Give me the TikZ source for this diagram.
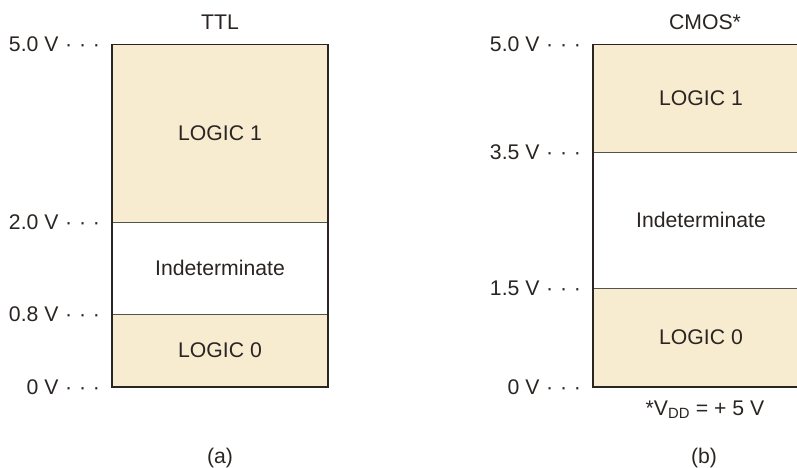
\documentclass[tikz,border=0pt]{standalone}
\usepackage{fontspec}
\setmainfont{Liberation Sans}
\usetikzlibrary{positioning}
\definecolor{cBand}{HTML}{F7EBD0}
\definecolor{cInk}{HTML}{2A2522}
\newcommand\lblfont{\fontsize{21.2}{25}\selectfont}
\newcommand\lvldots{\hspace{0.32em}·\hspace{0.32em}·\hspace{0.32em}·}
\tikzset{
  every node/.style={font=\lblfont,text=cInk,inner sep=0pt,outer sep=0pt},
  band/.style ={fill=cBand,minimum width=216pt},
  gap/.style  ={band,fill=white},
  frame/.style={draw=cInk,line width=1.8pt},
  rule/.style ={draw=cInk!80,line width=1pt},
  lvl/.style  ={anchor=east},
}
\begin{document}
\begin{tikzpicture}[x=1pt,y=-1pt]
\useasboundingbox (0,0) rectangle (797,467);
% (a) TTL
\node[band,minimum height=177.5pt] (L1) at (220,133.25) {LOGIC 1};
\node[gap,minimum height=92pt,below=0pt of L1] (LI) {Indeterminate};
\node[band,minimum height=73pt,below=0pt of LI] (L0) {LOGIC 0};
\draw[rule] (L1.south west) -- (L1.south east);
\draw[rule] (LI.south west) -- (LI.south east);
\draw[frame] (L1.north west) rectangle (L0.south east);
\node[above=15pt of L1.north] (tTTL) {TTL};
\node[lvl,left=12pt of L1.north west] (a50) {5.0 V\lvldots};
\node[lvl,left=12pt of L1.south west] (a20) {2.0 V\lvldots};
\node[lvl,left=12pt of LI.south west] (a08) {0.8 V\lvldots};
\node[lvl,left=12pt of L0.south west] (a00) {0 V\lvldots};
\node[below=61pt of L0.south] (capA) {(a)};
% (b) CMOS
\node[band,minimum height=107.5pt] (R1) at (701,98.25) {LOGIC 1};
\node[gap,minimum height=136pt,below=0pt of R1] (RI) {Indeterminate};
\node[band,minimum height=99pt,below=0pt of RI] (R0) {LOGIC 0};
\draw[rule] (R1.south west) -- (R1.south east);
\draw[rule] (RI.south west) -- (RI.south east);
\draw[frame] (R1.north west) rectangle (R0.south east);
\node[above=15pt of R1.north,xshift=4pt] (tCMOS) {CMOS*};
\node[lvl,left=12pt of R1.north west] (b50) {5.0 V\lvldots};
\node[lvl,left=12pt of R1.south west] (b35) {3.5 V\lvldots};
\node[lvl,left=12pt of RI.south west] (b15) {1.5 V\lvldots};
\node[lvl,left=12pt of R0.south west] (b00) {0 V\lvldots};
\node[below=14pt of R0.south,xshift=4pt] (vdd) {*V\textsubscript{DD} = + 5 V};
\node[below=61pt of R0.south,xshift=3pt] (capB) {(b)};
\end{tikzpicture}
\end{document}
